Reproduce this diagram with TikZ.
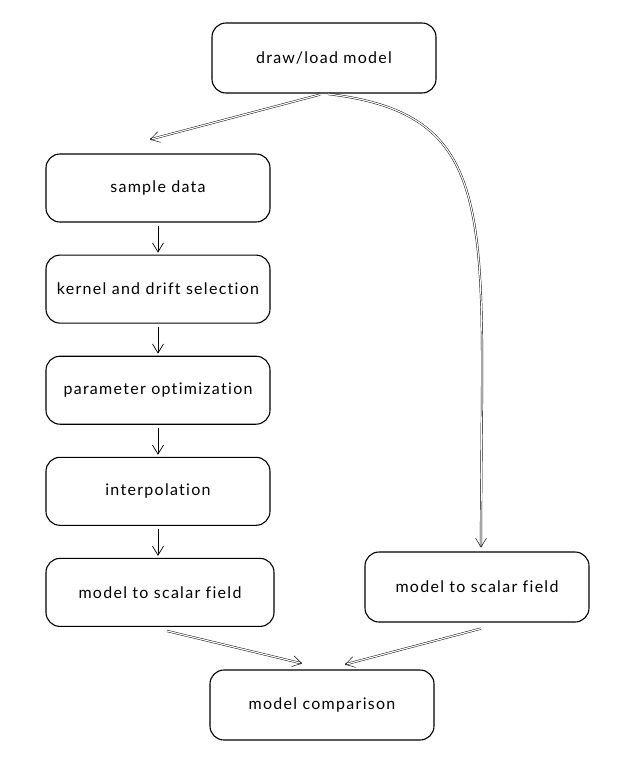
\documentclass[tikz,border=0pt]{standalone}
\usepackage{fontspec}
\setmainfont{Lato}[LetterSpace=8, Ligatures=NoCommon]
\usetikzlibrary{arrows.meta,positioning}

\begin{document}
\begin{tikzpicture}[
        x=1pt, y=-1pt,
        node distance=32pt,
        box/.style={rectangle, draw, line width=1.1pt, rounded corners=14pt, minimum width=224pt, minimum height=68pt, font=\fontsize{16}{19}\selectfont, align=center},
        arrow/.style={-{Straight Barb[length=9pt,width=11pt]}, line width=0.7pt},
        dblarrow/.style={arrow, double, double distance=1.2pt, line width=0.45pt}
    ]
        \useasboundingbox (0,0) rectangle (619,769);

        % Nodes
        \node[box, minimum height=70pt] (load) at (324,58) {draw/load model};
        \node[box] (sample) at (158,188) {sample data};
        \node[box, below=of sample] (kernel) {kernel and drift selection};
        \node[box, below=of kernel] (param) {parameter optimization};
        \node[box, below=of param] (interp) {interpolation};
        \node[box, below=of interp, minimum width=228pt, xshift=2pt] (fieldL) {model to scalar field};
        \node[box, minimum height=70pt] (fieldR) at (477,587) {model to scalar field};
        \node[box, minimum height=70pt] (compare) at (322,705) {model comparison};

        % Arrows
        \draw[dblarrow, shorten <=4pt] (load.south) -- ([xshift=-8pt,yshift=14pt]sample.north);
        \draw[dblarrow, shorten <=4pt] (load.south) .. controls (505,115) and (481,222) .. ([xshift=4pt,yshift=4pt]fieldR.north);
        \draw[arrow, shorten <=3pt, shorten >=2pt] (sample) -- (kernel);
        \draw[arrow, shorten <=3pt, shorten >=2pt] (kernel) -- (param);
        \draw[arrow, shorten <=3pt, shorten >=2pt] (param) -- (interp);
        \draw[arrow, shorten <=3pt, shorten >=2pt] (interp.south) -- (interp.south |- fieldL.north);
        \draw[dblarrow] ([xshift=7pt,yshift=-4pt]fieldL.south) -- ([xshift=-20pt,yshift=6pt]compare.north);
        \draw[dblarrow] ([xshift=4pt,yshift=-6pt]fieldR.south) -- ([xshift=23pt,yshift=5pt]compare.north);
    \end{tikzpicture}
\end{document}
